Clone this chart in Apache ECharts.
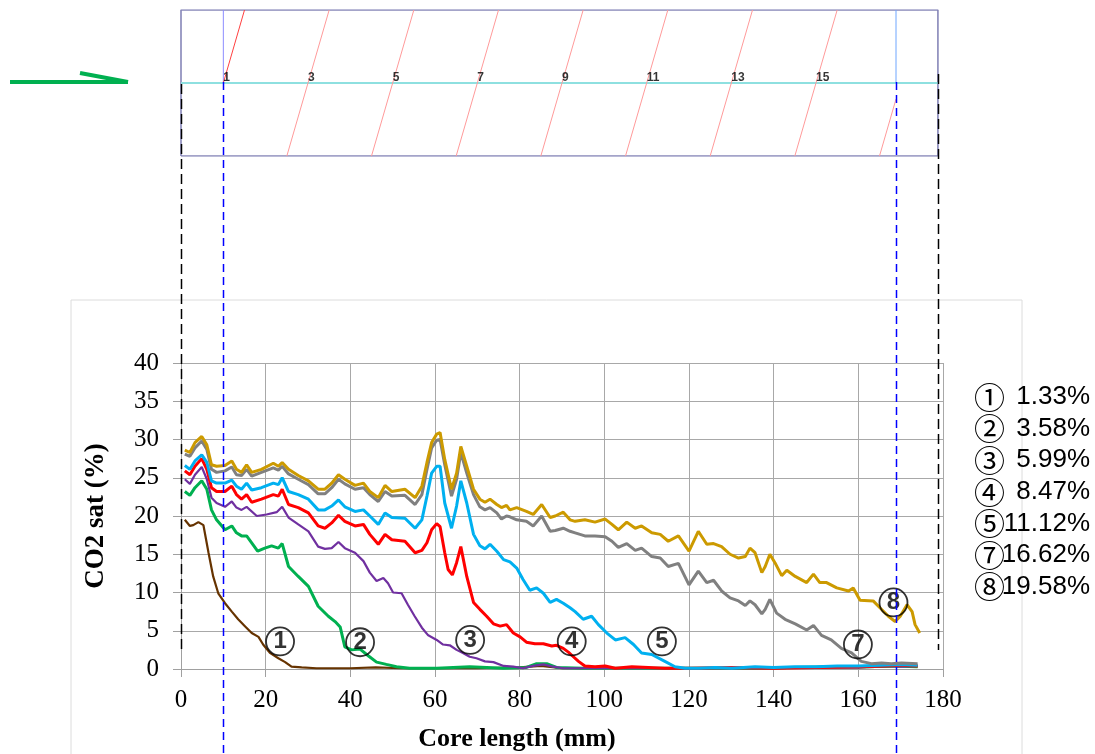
<!DOCTYPE html>
<html>
<head>
<meta charset="utf-8">
<script src="https://cdn.jsdelivr.net/npm/echarts@6/dist/echarts.min.js"></script>
<style>
html,body{margin:0;padding:0;background:#fff;}
#chart{width:1095px;height:754px;}
</style>
</head>
<body>
<div id="chart"></div>
<script>
// ---------------- data ----------------
const sat133 = [[0.9,19.5],[2.1,18.7],[2.9,18.8],[4.1,19.2],[5.3,18.8],[6.5,15.2],[7.6,12.1],[8.8,9.9],[10.4,8.6],[12,7.5],[13.5,6.5],[15.1,5.6],[16.7,4.7],[18.3,4.2],[19.4,3.2],[21,2.1],[23,1.4],[24.6,0.9],[26.1,0.3],[28.5,0.2],[32,0.1],[36,0.1],[40,0.1],[46,0.2],[52,0.1],[60,0.1],[70,0.1],[80,0.2],[85,0.4],[90,0.1],[100,0.1],[110,0.1],[120,0.1],[130,0.1],[140,0.1],[150,0.2],[160,0.2],[166,0.3],[170,0.4],[174,0.3]];
const sat358 = [[0.9,23.2],[2.1,22.7],[3.3,23.7],[4.9,24.6],[6.1,23.5],[7.2,20.8],[8.4,19.5],[10.4,18.2],[12,18.7],[13.1,17.8],[14.3,17.4],[15.5,17.4],[16.7,16.5],[18.1,15.4],[19.8,15.8],[21.4,16.1],[23,15.8],[23.9,16.4],[25.4,13.4],[27.7,12.1],[30.1,10.8],[32.4,8.2],[34.8,6.9],[36.4,6.2],[37.6,5.5],[38.7,2.9],[40.3,2.5],[42.3,2.6],[44.3,1.7],[46.2,0.9],[48.5,0.6],[50.9,0.3],[54,0.1],[60.4,0.1],[68.2,0.3],[76.2,0.1],[81.6,0.2],[84,0.7],[86.4,0.7],[88.7,0.2],[95,0.1],[105,0.1],[115,0.1],[125,0.1],[135,0.1],[145,0.2],[155,0.3],[162,0.3],[168,0.4],[174,0.3]];
const sat599 = [[0.9,24.8],[2.1,24.2],[3.3,25.4],[4.9,26.4],[6.1,24.8],[7.2,22.4],[8.4,21.7],[10.4,21.2],[12,21.9],[13.1,21.1],[14.3,20.8],[15.5,21.2],[17.9,20.0],[20.2,20.2],[22.6,20.5],[23.9,21.2],[25.4,19.8],[27.7,18.9],[30.1,18.0],[32.4,16.0],[34,15.7],[35.6,15.8],[37.2,16.6],[38.7,15.8],[41.1,15.2],[43.1,14.1],[44.6,12.6],[46.2,11.5],[47.8,11.9],[48.9,11.2],[50.1,10.0],[52.1,9.9],[53.6,8.4],[55.2,6.9],[56.9,5.4],[58.4,4.4],[60.4,3.8],[61.9,3.2],[63.5,3.1],[65.1,2.5],[66.6,2.1],[68.2,1.6],[69.8,1.4],[71.8,1.0],[73.8,0.9],[76.2,0.4],[78.5,0.3],[80.8,0.1],[83.2,0.4],[85.6,0.6],[87.9,0.3],[90.3,0.1],[100,0.1],[110,0.1],[120,0.1],[130,0.1],[140,0.1],[150,0.2],[160,0.2],[166,0.4],[170,0.3],[174,0.4]];
const sat847 = [[0.9,25.9],[2.1,25.4],[3.3,26.5],[4.9,27.5],[6.1,26.1],[7.2,23.7],[8.4,23.2],[10.4,23.2],[12,23.9],[13.1,22.8],[14.3,22.2],[15.5,22.8],[16.7,21.8],[19,22.2],[21.8,22.8],[23,22.6],[23.9,23.5],[25.4,21.5],[27.7,21.1],[30.1,20.4],[32.4,18.7],[34,18.4],[35.6,19.1],[37.2,20.1],[38.7,19.3],[41.1,18.7],[43.1,18.9],[44.6,17.6],[46.6,16.3],[48.2,17.6],[49.8,16.9],[52.9,16.7],[55.3,15.2],[56.9,15.5],[58.1,16.5],[59.2,18.2],[60.4,19.0],[61.2,18.6],[62.3,15.2],[63.1,13.0],[64.1,12.3],[65.1,13.9],[66.1,16.0],[67.5,12.1],[69.1,8.7],[70.6,7.8],[72.2,6.9],[73.8,5.9],[75.4,5.6],[76.9,5.8],[78.5,4.7],[80.1,4.2],[81.6,3.5],[83.6,3.3],[85.6,3.3],[87.6,3.0],[88.7,3.1],[90.3,2.7],[91.5,2.2],[92.5,1.7],[93.9,1.0],[95.4,0.4],[97.8,0.3],[100.2,0.4],[102.6,0.1],[106.5,0.3],[110.4,0.2],[114.3,0.1],[120,0.1],[130,0.2],[140,0.1],[150,0.2],[160,0.3],[166,0.4],[170,0.5],[174,0.4]];
const sat1112 = [[0.9,26.6],[2.1,26.1],[3.3,27.2],[4.9,28.0],[6.1,27.0],[7.2,24.6],[8.4,24.3],[10.4,24.3],[12,24.7],[13.1,23.9],[14.3,23.5],[15.5,24.3],[16.7,23.4],[19,23.7],[21.8,24.3],[23,24.1],[23.9,25.0],[25.4,23.2],[27.7,22.8],[30.1,22.2],[32.4,20.8],[34,20.8],[35.6,21.3],[37.2,22.1],[38.7,21.2],[41.1,20.6],[43.1,20.8],[44.6,20.0],[46.6,18.9],[48.2,20.4],[49.8,19.8],[52.9,19.7],[55.3,18.4],[56.9,19.5],[58.1,22.6],[59.2,25.6],[60.4,26.5],[61.2,26.5],[62.3,21.7],[63.9,18.4],[65.1,21.3],[66.1,24.6],[67.5,21.7],[69.1,17.6],[70.6,16.1],[71.8,15.7],[73,16.3],[74.6,15.4],[76.2,14.3],[77.7,14.0],[79.3,13.2],[80.8,11.7],[82.4,10.3],[84,10.6],[85.6,9.9],[87.2,8.7],[88.7,9.1],[90.3,8.6],[91.9,8.0],[93.1,7.5],[95,6.5],[97,6.9],[98.6,5.8],[100.6,4.7],[102.6,3.8],[104.9,4.1],[106.9,3.2],[108.8,2.1],[111.2,1.9],[114.3,1.0],[116.7,0.3],[119.1,0.1],[122.2,0.1],[126.2,0.2],[130.1,0.1],[135.6,0.3],[140,0.2],[145,0.3],[150,0.3],[155,0.4],[160,0.4],[165,0.5],[170,0.6],[174,0.5]];
const sat1662 = [[0.9,28.1],[2.1,27.8],[3.3,28.9],[4.9,29.8],[6.1,28.7],[7.2,26.1],[8.4,25.7],[10.4,25.9],[12,26.4],[13.1,25.4],[14.3,25.3],[15.5,26.1],[16.7,25.2],[19,25.7],[21.8,26.3],[23,26.0],[23.9,26.5],[25.4,25.5],[27.7,24.8],[30.1,24.1],[32.4,22.9],[34,22.9],[35.6,23.7],[37.2,24.8],[38.7,24.2],[41.1,23.5],[43.1,23.7],[44.6,22.8],[46.6,21.9],[48.2,23.2],[49.8,22.6],[52.9,22.7],[55.3,21.5],[56.9,22.8],[58.1,26.1],[59.2,28.9],[60.4,29.9],[61.2,30.0],[62.3,26.7],[63.9,22.6],[65.1,24.8],[66.1,28.3],[67.5,25.6],[69.1,22.8],[70.6,21.2],[71.8,20.8],[73,21.1],[74.6,20.4],[75.7,19.6],[76.9,20.0],[77.7,19.9],[79.3,19.5],[81.6,19.3],[83.2,18.7],[85.2,20.0],[87.2,18.0],[88.4,18.1],[90.3,18.4],[91.9,18.0],[93.1,17.8],[95.4,17.4],[97.8,17.4],[100.2,17.3],[101.8,16.7],[103.3,15.9],[105.3,16.4],[107.3,15.5],[108.8,15.8],[111.2,14.7],[113.2,14.5],[115.1,13.4],[117.5,13.8],[120,11.0],[122.2,12.8],[124.2,11.3],[125.8,11.6],[127.7,10.2],[129.7,9.3],[131.7,8.9],[133.3,8.3],[134.4,8.9],[135.6,8.4],[137.2,7.2],[138,7.8],[139.1,9.1],[140.7,7.3],[142.7,6.5],[145.1,5.9],[147.8,5.1],[149.4,5.7],[151.3,4.4],[153.6,3.8],[156,2.7],[158.4,2.1],[160.7,1.0],[163.1,0.7],[165.5,0.8],[167.8,0.7],[170.2,0.8],[174,0.7]];
const sat1958 = [[0.9,28.6],[2.1,28.3],[3.3,29.6],[4.9,30.4],[6.1,29.3],[7.2,26.7],[8.4,26.5],[10.4,26.6],[12,27.2],[13.1,26.1],[14.3,25.7],[15.5,26.7],[16.7,25.7],[19,26.1],[21.8,26.9],[23,26.5],[23.9,27.0],[25.4,26.1],[27.7,25.3],[30.1,24.6],[32.4,23.5],[34,23.5],[35.6,24.3],[37.2,25.4],[38.7,24.8],[41.1,24.0],[43.1,24.3],[44.6,23.2],[46.6,22.4],[48.2,24.0],[49.8,23.2],[52.9,23.5],[55.3,22.4],[56.9,23.9],[58.1,27.0],[59.2,29.6],[60.4,30.7],[61.2,30.9],[62.3,27.4],[63.9,23.5],[65.1,25.6],[66.1,29.1],[67.5,26.5],[69.1,23.5],[70.6,22.2],[71.8,21.8],[73,22.2],[74.6,21.5],[75.7,21.1],[76.9,21.4],[77.7,20.8],[79.3,21.1],[81.6,20.6],[83.2,20.2],[85.2,21.5],[87.2,19.8],[88.4,20.0],[90.3,20.5],[91.9,19.5],[93.1,19.3],[95.4,19.5],[97.8,19.2],[100.2,19.6],[101.8,18.9],[103.3,18.2],[105.3,19.2],[107.3,18.4],[108.8,18.7],[111.2,17.8],[113.2,17.6],[115.1,16.7],[117.5,17.4],[120,15.4],[122.2,18.0],[124.2,16.3],[125.8,16.4],[127.7,16.0],[129.7,15.0],[131.7,14.5],[133.3,14.7],[134.4,15.8],[135.6,15.2],[137.2,12.6],[138,13.4],[139.1,15.0],[140.3,13.9],[141.9,12.2],[143.1,12.9],[145.1,12.1],[147.8,11.3],[149.4,12.4],[150.9,11.3],[152.5,11.3],[154.9,10.6],[157.7,10.2],[158.8,10.6],[160.4,9.0],[163.5,8.9],[165.1,8.0],[167.1,6.9],[168.7,6.2],[169.9,6.9],[171.5,8.4],[172.7,7.5],[173.4,5.8],[174.5,4.7]];

const seriesNames = ['1.33%','3.58%','5.99%','8.47%','11.12%','16.62%','19.58%'];
const seriesMarks = ['①','②','③','④','⑤','⑦','⑧'];
const markDigits = ['1','2','3','4','5','7','8'];
const markX = [23.4, 42.3, 68.3, 92.3, 113.6, 159.9, 168.3];
const markY = [3.6, 3.5, 3.8, 3.6, 3.6, 3.2, 8.7];

const xTicks = [0,20,40,60,80,100,120,140,160,180];
const yTicks = [0,5,10,15,20,25,30,35,40];

// core schematic (mm along the core)
const coreStart = 0, coreEnd = 178.8;
const roiStart = 10, roiEnd = 168.9;
const sliceCenters = [10,30,50,70,90,110,130,150,170];
const sliceLabels = ['1','3','5','7','9','11','13','15',''];

// ---------------- chart ----------------
const colors = ['#663300','#00b050','#7030a0','#ff0000','#00b0f0','#808080','#cc9a00'];
const widths = [2.2,3,2.2,3,3,3,3];
const satData = [sat133, sat358, sat599, sat847, sat1112, sat1662, sat1958];

const chart = echarts.init(document.getElementById('chart'), null, {renderer:'canvas'});

const serif = 'Liberation Serif';
const series = [];

// schematic: rectangle and mid line
series.push({type:'line', xAxisIndex:1, yAxisIndex:1, symbol:'none', silent:true, z:1,
  data:[[coreStart,0],[coreEnd,0],[coreEnd,1],[coreStart,1],[coreStart,0]],
  lineStyle:{color:'#8686b8', width:1.6}});
series.push({type:'line', xAxisIndex:1, yAxisIndex:1, symbol:'none', silent:true, z:1,
  data:[[coreStart,0.5],[coreEnd,0.5]], lineStyle:{color:'#8ee0e0', width:2}});
series.push({type:'line', xAxisIndex:1, yAxisIndex:1, symbol:'none', silent:true, z:1,
  data:[[roiStart,0.5],[roiStart,1]], lineStyle:{color:'#8c8cff', width:1}});
series.push({type:'line', xAxisIndex:1, yAxisIndex:1, symbol:'none', silent:true, z:1,
  data:[[roiEnd,0.5],[roiEnd,1]], lineStyle:{color:'#6ea6ff', width:1}});
// slanted slice lines, clipped to the region of interest
const halfSlant = 5;
sliceCenters.forEach((c, i) => {
  const a = c - halfSlant, b = c + halfSlant;
  const xs = Math.max(a, roiStart), xe = Math.min(b, roiEnd);
  if (xe <= xs) return;
  series.push({type:'line', xAxisIndex:1, yAxisIndex:1, symbol:'none', silent:true, z:1,
    data:[[xs,(xs-a)/(b-a)],[xe,(xe-a)/(b-a)]],
    lineStyle:{color: i === 0 ? '#ff4040' : '#ff9a9a', width:1}});
});
series.push({type:'scatter', xAxisIndex:1, yAxisIndex:1, symbolSize:0, silent:true, z:3,
  data: sliceCenters.map((c,i)=>({value:[c,0.5], name:sliceLabels[i]})),
  label:{show:true, position:'right', distance:0, offset:[0,-5], formatter:p=>p.name,
    fontFamily:'Liberation Sans', fontWeight:'bold', fontSize:12, color:'#000'}});

// saturation curves
satData.forEach((d,i)=>{
  series.push({type:'line', name:seriesNames[i], xAxisIndex:0, yAxisIndex:0, data:d,
    symbol:'none', smooth:false, z:2+i*0.01,
    lineStyle:{color:colors[i], width:widths[i]}});
});
// circled markers on the curves (circle + number)
series.push({type:'scatter', xAxisIndex:0, yAxisIndex:0, symbol:'circle', symbolSize:28, z:10, silent:true,
  itemStyle:{color:'rgba(0,0,0,0)', borderColor:'#000', borderWidth:1.8},
  data: markDigits.map((m,i)=>({value:[markX[i],markY[i]], name:m})),
  label:{show:true, position:'inside', formatter:p=>p.name,
    fontFamily:'Liberation Sans', fontWeight:'bold', fontSize:24, color:'#000'}});

const axisGray = '#a0a0a0';
const option = {
  animation:false,
  backgroundColor:'#ffffff',
  grid:[
    {left:181, right:152, top:363, bottom:85},
    {left:181, right:152, top:10, height:146}
  ],
  xAxis:[
    {gridIndex:0, type:'value', min:xTicks[0], max:xTicks[xTicks.length-1], interval:20,
      axisLine:{show:true, onZero:false, lineStyle:{color:axisGray, width:1}},
      axisTick:{show:true, length:8, lineStyle:{color:axisGray}},
      axisLabel:{color:'#000', fontFamily:serif, fontSize:25, margin:19},
      splitLine:{show:true, lineStyle:{color:'#a8a8a8', width:1}},
      name:'Core length (mm)', nameLocation:'middle', nameGap:57,
      nameTextStyle:{color:'#000', fontFamily:serif, fontWeight:'bold', fontSize:26, padding:[0,90,0,0]}},
    {gridIndex:1, type:'value', min:0, max:180, show:false}
  ],
  yAxis:[
    {gridIndex:0, type:'value', min:yTicks[0], max:yTicks[yTicks.length-1], interval:5,
      axisLine:{show:true, lineStyle:{color:axisGray, width:1}},
      axisTick:{show:true, length:8, lineStyle:{color:axisGray}},
      axisLabel:{color:'#000', fontFamily:serif, fontSize:25, margin:22},
      splitLine:{show:true, lineStyle:{color:'#a8a8a8', width:1}},
      name:'CO2 sat (%)', nameLocation:'middle', nameGap:71, nameRotate:90,
      nameTextStyle:{color:'#000', fontFamily:serif, fontWeight:'bold', fontSize:27}},
    {gridIndex:1, type:'value', min:0, max:1, show:false}
  ],
  series: series
};
chart.setOption(option);

// overlay: guide lines spanning both panels, arrow, frame, side legend
const px = v => chart.convertToPixel({xAxisIndex:0}, v);
const g = [];
g.push({type:'rect', z:-5, silent:true, shape:{x:71, y:300, width:951, height:470},
  style:{fill:null, stroke:'#dcdcdc', lineWidth:1}});
// green flow arrow
g.push({type:'polyline', z:5, silent:true, shape:{points:[[10,82],[128,82]]},
  style:{stroke:'#00b050', lineWidth:4, fill:null}});
g.push({type:'polyline', z:5, silent:true, shape:{points:[[80,73],[128,82]]},
  style:{stroke:'#00b050', lineWidth:4, fill:null}});
// dashed guides
[[roiStart,82,754],[roiEnd,82,754]].forEach(([v,y1,y2])=>{
  const x = Math.round(px(v)) + 0.5;
  g.push({type:'line', z:20, silent:true, shape:{x1:x, y1:y1, x2:x, y2:y2},
    style:{stroke:'#0000ff', lineWidth:1.5, lineDash:[8,5]}});
});
[[coreStart,84,650],[coreEnd,74,650]].forEach(([v,y1,y2])=>{
  const x = Math.round(px(v)) + 0.5;
  g.push({type:'line', z:20, silent:true, shape:{x1:x, y1:y1, x2:x, y2:y2},
    style:{stroke:'#000000', lineWidth:1.5, lineDash:[10,5]}});
});
// side legend
const legTop = 397, legStep = 31.6;
seriesMarks.forEach((m,i)=>{
  const y = legTop + i*legStep;
  g.push({type:'text', z:20, silent:true, style:{x:974, y:y, text:m, fontFamily:'Noto Sans CJK JP',
    fontSize:31, fill:'#000', textAlign:'left', textVerticalAlign:'middle', verticalAlign:'middle'}});
  g.push({type:'text', z:20, silent:true, style:{x:1090, y:y, text:seriesNames[i], fontFamily:'Liberation Sans',
    fontSize:26, fill:'#000', textAlign:'right', textVerticalAlign:'middle', verticalAlign:'middle'}});
});
chart.setOption({graphic:g});
</script>
</body>
</html>
